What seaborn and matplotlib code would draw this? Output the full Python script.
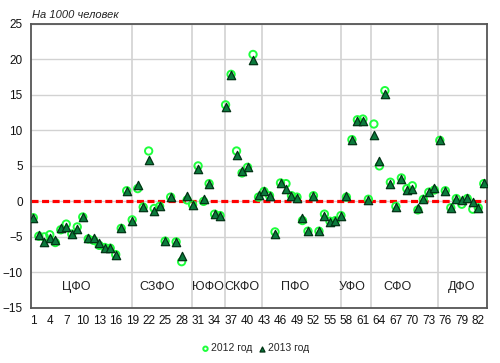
import numpy as np
import pandas as pd
import matplotlib
matplotlib.use('Agg')
import matplotlib.pyplot as plt
import seaborn as sns

# Region numbers 1..83 (regions ordered by federal district)
regions = list(range(1, 84))

# Net migration per 1000 people, 2012
rate_2012 = [
    -2.3, -4.9, -5.0, -4.7, -5.8, -4.0, -3.2, -4.6, -3.6, -2.2,
    -5.3, -5.5, -6.2, -6.5, -6.6, -7.5, -3.8, 1.5, -2.6, 1.8,
    -0.8, 7.1, -1.0, -0.7, -5.6, 0.6, -5.7, -8.5, 0.2, -0.5,
    5.0, 0.0, 2.5, -1.8, -2.0, 13.6, 17.9, 7.1, 4.0, 4.8,
    20.7, 0.6, 1.4, 0.8, -4.3, 2.6, 2.5, 0.8, 0.6, -2.7,
    -4.2, 0.8, -4.2, -1.8, -2.8, -2.7, -2.0, 0.6, 8.7, 11.5,
    11.6, 0.3, 10.9, 5.0, 15.6, 2.7, -0.7, 3.3, 1.8, 2.2,
    -1.2, 0.3, 1.3, 1.6, 8.6, 1.5, -0.9, 0.4, -0.4, 0.4,
    -1.1, -0.9, 2.5,
]

# Net migration per 1000 people, 2013
rate_2013 = [
    -2.4, -4.8, -5.7, -5.1, -5.4, -3.7, -3.6, -4.6, -3.9, -2.2,
    -5.2, -5.1, -5.9, -6.5, -6.6, -7.5, -3.7, 1.5, -2.7, 2.3,
    -0.8, 5.9, -1.4, -0.7, -5.6, 0.6, -5.7, -7.7, 0.7, -0.5,
    4.6, 0.3, 2.5, -1.8, -2.0, 13.3, 17.8, 6.5, 4.3, 4.8,
    19.9, 0.9, 1.4, 0.8, -4.6, 2.6, 1.7, 0.8, 0.5, -2.4,
    -4.2, 0.8, -4.2, -2.0, -2.9, -2.7, -2.0, 0.7, 8.7, 11.3,
    11.3, 0.2, 9.4, 5.7, 15.1, 2.5, -0.8, 3.2, 1.6, 1.8,
    -1.0, 0.4, 1.35, 1.9, 8.7, 1.5, -1.0, 0.4, 0.2, 0.5,
    -0.05, -0.9, 2.6,
]

districts = ['ЦФО', 'СЗФО', 'ЮФО', 'СКФО', 'ПФО', 'УФО', 'СФО', 'ДФО']
district_centers = [8.8, 23.5, 32.7, 39.0, 48.6, 59.1, 67.3, 79.0]
district_bounds = [19.0, 29.8, 35.9, 42.7, 57.0, 62.4, 74.6]

x_ticks = list(range(1, 84, 3))
y_ticks = list(range(-15, 26, 5))

df = pd.DataFrame({'region': regions, 'y2012': rate_2012, 'y2013': rate_2013})

sns.set_theme(style='white')
plt.rcParams['font.family'] = ['Liberation Sans', 'DejaVu Sans']

fig = plt.figure(figsize=(5, 3.63), dpi=100)
ax = fig.add_axes([0.062, 0.152, 0.911, 0.782])

# grid
for yv in y_ticks:
    ax.axhline(yv, color='#d2d2d2', lw=1, zorder=0)
for xb in district_bounds:
    ax.axvline(xb, color='#d2d2d2', lw=1.2, zorder=0)

# zero line
ax.axhline(0, color='#ff0000', lw=2.3, ls=(0, (2.2, 1.1)), zorder=1)

sns.scatterplot(data=df, x='region', y='y2012', ax=ax, marker='o', s=28,
                facecolor='none', edgecolor='#1eff3c', linewidth=1.4,
                zorder=2, label='2012 год')
sns.scatterplot(data=df, x='region', y='y2013', ax=ax, marker='^', s=36,
                color='#0b7a3c', edgecolor='#023315', linewidth=0.9,
                zorder=3, label='2013 год')

for name, cx in zip(districts, district_centers):
    ax.text(cx, -12.1, name, ha='center', va='center', fontsize=9, color='#222222')

ax.set_xlim(0.58, 83.5)
ax.set_ylim(-15, 25)
ax.set_xticks(x_ticks)
ax.set_yticks(y_ticks)
ax.set_xlabel('')
ax.set_ylabel('')
ax.tick_params(axis='both', length=0, labelsize=8.5, colors='#111111')
ax.tick_params(axis='x', pad=5)
ax.tick_params(axis='y', pad=6)
for sp in ax.spines.values():
    sp.set_color('#555555')
    sp.set_linewidth(1.3)

fig.text(0.064, 0.958, 'На 1000 человек', fontsize=8, style='italic',
         ha='left', va='center', color='#222222')

ax.legend(loc='center', bbox_to_anchor=(0.51, 0.04), bbox_transform=fig.transFigure,
          ncol=2, frameon=False, fontsize=7.5, markerscale=0.6,
          handletextpad=0.1, columnspacing=0.6, handlelength=0.8)

fig.savefig('out.png', dpi=100)
